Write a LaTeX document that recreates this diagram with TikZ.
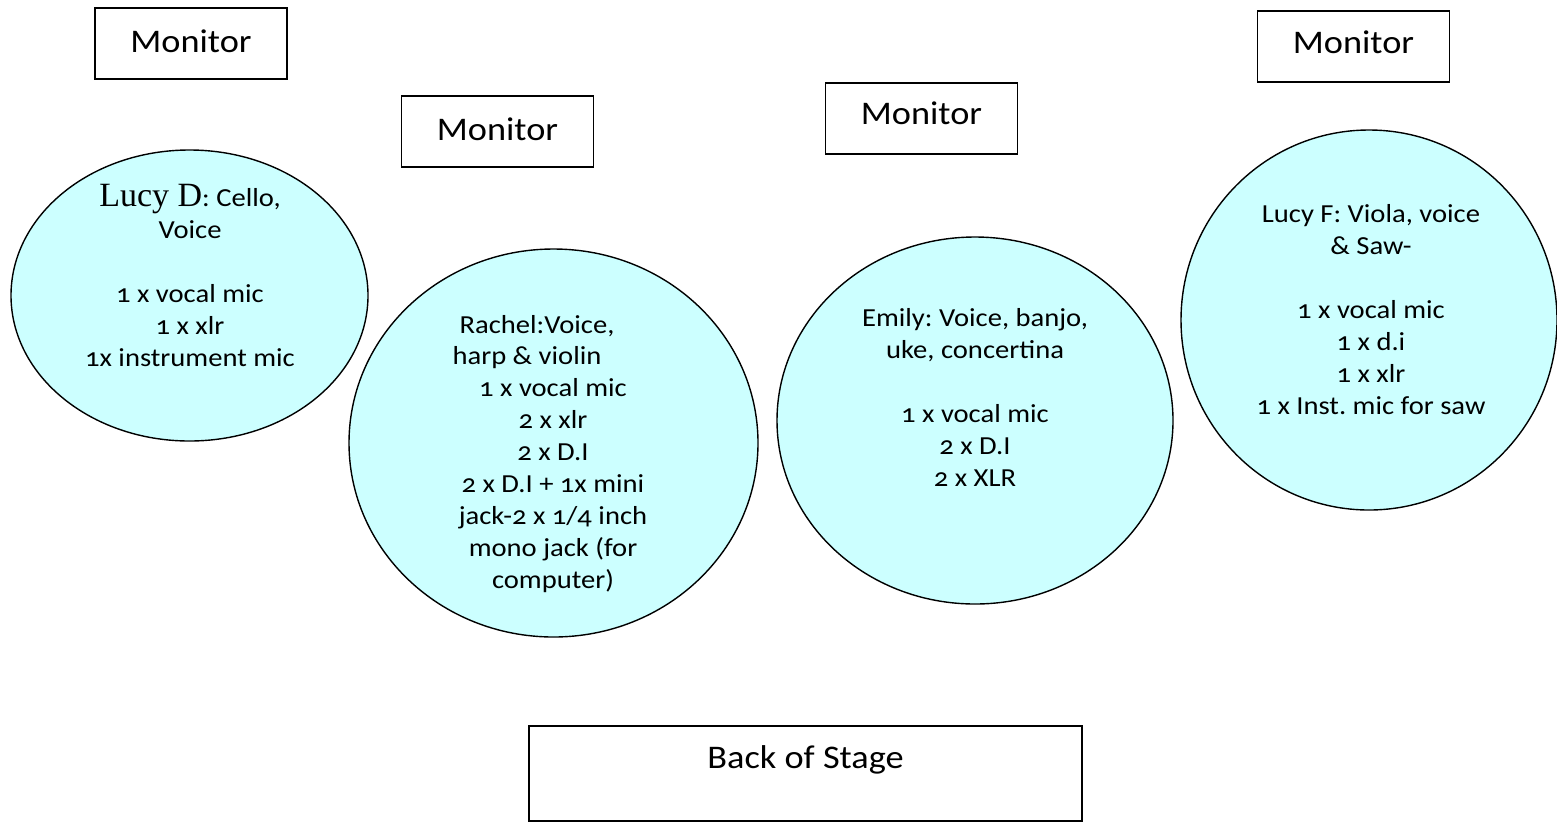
\documentclass[tikz,border=0pt]{standalone}
\usepackage{fontspec}
\setmainfont{Carlito}[Numbers=OldStyle, FakeStretch=1.1]
\newfontfamily\timesf{Liberation Serif}
\frenchspacing
\definecolor{cyanfill}{HTML}{CCFFFF}
\tikzset{
  monbox/.style={draw=black, line width=1.2pt, minimum width=192pt, minimum height=71pt, inner sep=0pt},
  montext/.style={font=\fontsize{33}{38}\selectfont, inner sep=0pt},
  player/.style={draw=black, line width=1.4pt, fill=cyanfill},
  ptext/.style={align=center, font=\fontsize{26}{32}\selectfont, inner sep=0pt, anchor=north},
  pline/.style={font=\fontsize{26}{32}\selectfont, inner sep=0pt, anchor=base}
}
\begin{document}
\begin{tikzpicture}[x=1pt,y=-1pt]
\useasboundingbox (0,0) rectangle (1557,823);
% monitors
\node[monbox] (m1) at (191,43.5) {};
\node[montext] (m1t) at (191,41) {Monitor};
\node[monbox] (m2) at (497.5,131.5) {};
\node[montext] (m2t) at (497.5,129) {Monitor};
\node[monbox] (m3) at (921.5,118.5) {};
\node[montext] (m3t) at (921.5,113) {Monitor};
\node[monbox] (m4) at (1353.5,46.5) {};
\node[montext] (m4t) at (1353.5,42) {Monitor};
% back of stage
\node[draw=black, line width=1.2pt, minimum width=553pt, minimum height=95pt, inner sep=0pt] (back) at (805.5,773.5) {};
\node[montext] (backt) at (805.5,760) {Back of Stage};
% ellipses
\draw[player] (189.5,295.5) ellipse [x radius=178.5, y radius=145.5];
\draw[player] (553.5,443) ellipse [x radius=204.5, y radius=194];
\draw[player] (975,420.5) ellipse [x radius=198, y radius=183.5];
\draw[player] (1369,320) ellipse [x radius=188, y radius=190];
% texts
\node[ptext] (t1) at (190,184.5) {{\timesf\fontsize{34}{32}\selectfont Lucy D}: Cello,\\Voice\\[32pt]1 x vocal mic\\1 x xlr\\1x instrument mic};
\node[pline] (t2a) at (537,333.5) {Rachel:Voice,};
\node[pline] (t2b) at (527,364.5) {harp \& violin};
\node[ptext] (t2) at (553,378) {1 x vocal mic\\2 x xlr\\2 x D.I\\2 x D.I + 1x mini\\jack-2 x 1/4 inch\\mono jack (for\\computer)};
\node[ptext] (t3) at (975,308) {Emily: Voice, banjo,\\uke, concertina\\[32pt]1 x vocal mic\\2 x D.I\\2 x XLR};
\node[ptext] (t4) at (1371,204) {Lucy F: Viola, voice\\\& Saw-\\[32pt]1 x vocal mic\\1 x d.i\\1 x xlr\\1 x Inst. mic for saw};
\end{tikzpicture}
\end{document}
